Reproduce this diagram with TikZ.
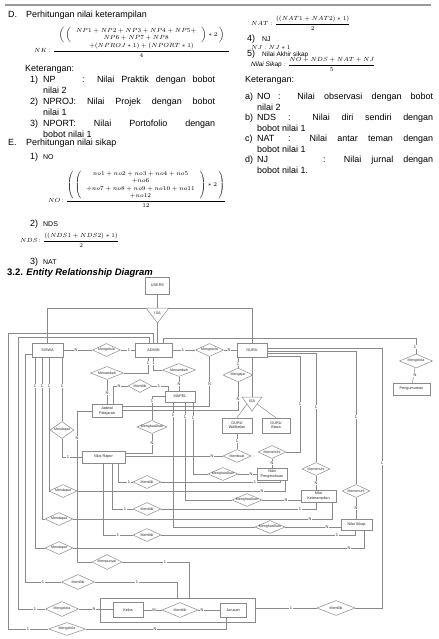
\documentclass[tikz,border=0pt]{standalone}
\usepackage{amsmath}
\usepackage{fontspec}
\setmainfont{Liberation Sans}
\usetikzlibrary{shapes.geometric}
\definecolor{erline}{HTML}{8A8A8A}
\definecolor{erink}{HTML}{2B2B2B}
\definecolor{rulegray}{HTML}{9A9A9A}
\tikzset{
  body/.style={anchor=base west,inner sep=0pt,font=\fontsize{9}{11}\selectfont},
  small/.style={anchor=base west,inner sep=0pt,font=\fontsize{7}{8}\selectfont},
  fml/.style={anchor=base west,inner sep=0pt,font=\fontsize{6.5}{7.5}\selectfont},
  ent/.style={draw=erline,line width=.5bp,fill=white,inner sep=0pt,align=center,
              font=\fontsize{3.8}{4.2}\selectfont,text=erink},
  rel/.style={diamond,aspect=2.4,draw=erline,line width=.5bp,fill=white,inner sep=0pt,
              minimum width=28bp,minimum height=13bp,font=\fontsize{3.6}{4}\selectfont,text=erink},
  card/.style={fill=white,inner sep=.5bp,font=\fontsize{4}{4}\selectfont,text=erink},
  erl/.style={draw=erline,line width=.5bp},
  isatxt/.style={inner sep=0pt,font=\fontsize{3.8}{4}\selectfont,text=erink},
}
\newcommand{\jline}[2]{\makebox[#1][s]{#2}}

\begin{document}
\begin{tikzpicture}[x=1bp,y=-1bp]
  \path[fill=white,use as bounding box] (0,0) rectangle (439,639);
  \draw[rulegray,line width=1.6bp] (5,5) -- (431,5);

  % ---- left column ----
  \node[body] (dLbl) at (8,18) {D.};
  \node[body] (dHead) at (26,18) {Perhitungan nilai keterampilan};
  \node[fml] (fNK) at (34,52.5) {$NK\colon\dfrac{\begin{array}{c}\left(\,\left(\begin{array}{c}NP1+NP2+NP3+NP4+NP5+\\ NP6+NP7+NP8\end{array}\right)*2\,\right)\\ +(NPROJ*1)+(NPORT*1)\end{array}}{4}$};
  \node[body] (ketD) at (25,71.5) {Keterangan:};
  \node[body] at (30,83) {1)};
  \node[body] at (43,83) {\jline{172bp}{\makebox[39bp][l]{NP}: Nilai Praktik dengan bobot}};
  \node[body] at (43,94) {nilai 2};
  \node[body] at (30,105) {2)};
  \node[body] at (43,105) {\jline{172bp}{NPROJ: Nilai Projek dengan bobot}};
  \node[body] at (43,116) {nilai 1};
  \node[body] at (30,127) {3)};
  \node[body] at (43,127) {\jline{172bp}{NPORT: Nilai Portofolio dengan}};
  \node[body] at (43,137.5) {bobot nilai 1};
  \node[body] (eLbl) at (8,146) {E.};
  \node[body] (eHead) at (26,146) {Perhitungan nilai sikap};
  \node[body] at (30,159.5) {1)};
  \node[small] at (43,159.5) {NO};
  \node[fml] (fNO) at (48,202.5) {$NO\colon\dfrac{\left(\,\left(\begin{array}{c}no1+no2+no3+no4+no5\\ +no6\\ +no7+no8+no9+no10+no11\\ +no12\end{array}\right)*2\,\right)}{12}$};
  \node[body] at (30,226) {2)};
  \node[small] at (43,226) {NDS};
  \node[fml] (fNDS) at (20,242.5) {$NDS\colon\dfrac{((NDS1+NDS2)*1)}{2}$};
  \node[body] at (30,264) {3)};
  \node[small] at (43,264) {NAT};
  \node[body,font=\fontsize{9.5}{11}\selectfont\bfseries] (erHead) at (7,275.5)
    {3.2. \textit{Entity Relationship Diagram}};

  % ---- right column ----
  \node[fml] (fNAT) at (251,25.5) {$NAT : \dfrac{((NAT1+NAT2)*1)}{2}$};
  \node[body] at (247,42) {4)};
  \node[small] at (262,42) {NJ};
  \node[fml] (fNJ) at (251,49.5) {$NJ : NJ*1$};
  \node[body] at (247,57) {5)};
  \node[small,font=\fontsize{6.5}{7}\selectfont] at (262,57) {Nilai Akhir sikap};
  \node[fml] (fNS) at (251,66.5) {$\mathit{Nilai\ Sikap} : \dfrac{NO+NDS+NAT+NJ}{5}$};
  \node[body] (ketE) at (245,83) {Keterangan:};
  \node[body] at (245,100) {a)};
  \node[body] at (257,100) {\jline{176bp}{\makebox[21bp][l]{NO}: Nilai observasi dengan bobot}};
  \node[body] at (257,110.5) {nilai 2};
  \node[body] at (245,121) {b)};
  \node[body] at (257,121) {\jline{176bp}{\makebox[31bp][l]{NDS}: Nilai diri sendiri dengan}};
  \node[body] at (257,131.5) {bobot nilai 1};
  \node[body] at (245,142) {c)};
  \node[body] at (257,142) {\jline{176bp}{\makebox[31bp][l]{NAT}: Nilai antar teman dengan}};
  \node[body] at (257,152.5) {bobot nilai 1};
  \node[body] at (245,163) {d)};
  \node[body] at (257,163) {\jline{176bp}{\makebox[66bp][l]{NJ}: Nilai jurnal dengan}};
  \node[body] at (257,173.5) {bobot nilai 1.};

  % ---- entities ----
  \node[ent,minimum width=24bp,minimum height=17bp] (users) at (157.5,285.5) {USERS};
  \node[ent,minimum width=31bp,minimum height=14bp] (siswa) at (47.5,350) {SISWA};
  \node[ent,minimum width=37bp,minimum height=14bp] (admin) at (153.5,350) {ADMIN};
  \node[ent,minimum width=30bp,minimum height=14bp] (guru) at (252,350) {GURU};
  \node[ent,minimum width=37bp,minimum height=12bp] (umum) at (411.5,389) {Pengumuman};
  \node[ent,minimum width=30bp,minimum height=13bp] (jadwal) at (107,411) {Jadwal\\Pelajaran};
  \node[ent,minimum width=30bp,minimum height=11bp] (mapel) at (180,396.5) {MAPEL};
  \node[ent,minimum width=30bp,minimum height=15bp] (wali) at (237,425.5) {GURU\\Walikelas};
  \node[ent,minimum width=28bp,minimum height=15bp] (biasa) at (276,425.5) {GURU\\Biasa};
  \node[ent,minimum width=43bp,minimum height=12bp] (rapor) at (103.5,457) {Nilai Rapor};
  \node[ent,minimum width=30bp,minimum height=12bp] (npeng) at (272,474) {Nilai\\Pengetahuan};
  \node[ent,minimum width=35bp,minimum height=12bp] (nket) at (318.5,496) {Nilai\\Keterampilan};
  \node[ent,minimum width=31bp,minimum height=11bp] (nsikap) at (356.5,524.5) {Nilai Sikap};
  \node[ent,minimum width=155bp,minimum height=24bp] (agg) at (177.5,610) {};
  \node[ent,minimum width=30bp,minimum height=15bp] (kelas) at (128,610) {Kelas};
  \node[ent,minimum width=26bp,minimum height=14bp] (jurusan) at (233,610) {Jurusan};

  % ---- ISA triangles ----
  \coordinate (isaL) at (146,308); \coordinate (isaR) at (169,308); \coordinate (isaB) at (157.5,323);
  \draw[erl] (isaL) -- (isaR) -- (isaB) -- cycle;
  \node[isatxt] (isa1) at (157.5,313) {ISA};
  \coordinate (isbL) at (242,397); \coordinate (isbR) at (262,397); \coordinate (isbB) at (252,411);
  \coordinate (isbT) at (252,397);
  \draw[erl] (isbL) -- (isbR) -- (isbB) -- cycle;
  \node[isatxt] (isa2) at (252,401.5) {ISA};
  \coordinate (isbSL) at (247,404); \coordinate (isbSR) at (257,404);

  % ---- relationships ----
  \node[rel] (klSA) at (106.5,350) {Mengelola};
  \node[rel] (klAG) at (209.5,350) {Mengelola};
  \node[rel,minimum width=33bp,minimum height=14bp] (klAP) at (416,361) {Mengelola};
  \node[rel,minimum width=33bp] (tbJ) at (107,373) {Menambah};
  \node[rel,minimum width=33bp] (tbM) at (179,370) {Menambah};
  \node[rel,minimum width=24bp] (mlJM) at (140,386) {Memiliki};
  \node[rel,minimum width=30bp,minimum height=14bp] (ajar) at (238,375) {Mengajar};
  \node[rel] (hsR) at (152,427) {Menghasilkan};
  \node[rel,minimum width=23bp,minimum height=17bp] (dp1) at (62,430) {Mendapat};
  \node[rel] (buat) at (237,456) {Membuat};
  \node[rel] (pn1) at (272,452) {Memenuhi};
  \node[rel] (pn2) at (316,469) {Memenuhi};
  \node[rel] (pn3) at (356,491) {Memenuhi};
  \node[rel] (hsP) at (223,474) {Menghasilkan};
  \node[rel] (hsK) at (247,500) {Menghasilkan};
  \node[rel] (hsS) at (270,527) {Menghasilkan};
  \node[rel] (mlA) at (147,482) {Memiliki};
  \node[rel] (mlB) at (147,509) {Memiliki};
  \node[rel] (mlC) at (147,535) {Memiliki};
  \node[rel] (dp2) at (63,491) {Mendapat};
  \node[rel] (dp3) at (59,519) {Mendapat};
  \node[rel] (dp4) at (59,548) {Mendapat};
  \node[rel,minimum width=30bp,minimum height=15bp] (punya) at (107,562) {Mempunyai};
  \node[rel,minimum width=33bp,minimum height=15bp] (mlS) at (78,582) {Memiliki};
  \node[rel,minimum width=33bp,minimum height=15bp] (klK) at (62,609) {Mengelola};
  \node[rel,minimum width=36bp,minimum height=15bp] (mlKJ) at (180,610) {Memiliki};
  \node[rel,minimum width=38bp,minimum height=15bp] (mlG) at (336,608) {Memiliki};
  \node[rel,minimum width=37bp,minimum height=13bp] (klJ) at (67,629) {Mengelola};

  % ---- connectors ----
  \draw[erl] (users.south) -- (users.south |- isaL);
  \draw[erl] (siswa.north) |- (isaL);
  \draw[erl] (isaR) -| (guru.north);
  \draw[erl] (isaB) -- (isaB |- admin.north);
  \draw[erl] (siswa) -- (klSA) -- (admin);
  \draw[erl] (admin) -- (klAG) -- (guru);
  \draw[erl] (admin.north -| 163,0) -- (163,338) -| (klAP.north);
  \draw[erl] (klAP) -- (umum);
  \draw[erl] (admin.north -| 153,0) -- (153,333) -| (klJ.west -| 8,0) -- (klJ.west);
  \draw[erl] (admin.north -| 149,0) -- (149,337) -| (klK.west -| 18,0) -- (klK.west);
  \draw[erl] (admin.south -| 148,0) |- (tbJ.east);
  \draw[erl] (tbJ) -- (jadwal);
  \draw[erl] (admin.south -| 153.5,0) |- (tbM.west);
  \draw[erl] (tbM.south) -- (tbM.south |- mapel.north);
  \draw[erl] (jadwal.north -| 113,0) |- (mlJM.west);
  \draw[erl] (mlJM.east) -| (mapel.north -| 168,0);
  \draw[erl] (guru.south -| 238,0) -- (ajar.north);
  \draw[erl] (ajar.south) |- (jadwal.east |- 0,410);
  \draw[erl] (klAG.south) |- (jadwal.east |- 0,406);
  \draw[erl] (guru.south) -- (isbT);
  \draw[erl] (isbSL) -- (wali.north);
  \draw[erl] (isbSR) -- (biasa.north);
  \draw[erl] (wali) -- (buat);
  \draw[erl] (rapor.east |- 0,453) -| (hsR.south);
  \draw[erl] (hsR.north) |- (mapel.west);
  \draw[erl] (rapor.east |- buat.west) -- (buat.west);
  \draw[erl] (siswa.south -| 62,0) -- (dp1.north);
  \draw[erl] (dp1.south) |- (rapor.west);
  \draw[erl] (siswa.south -| 49,0) |- (dp2.west);
  \draw[erl] (dp2.east) -| (npeng.south -| 285,0);
  \draw[erl] (siswa.south -| 42,0) |- (dp3.west);
  \draw[erl] (dp3.east) -| (nket.south -| 332,0);
  \draw[erl] (siswa.south -| 35,0) |- (dp4.west);
  \draw[erl] (dp4.east) -| (nsikap.south -| 364,0);
  \draw[erl] (siswa.west |- 0,354) -| (mlS.west -| 25,0) -- (mlS.west);
  \draw[erl] (mlS.east) -| (agg.north -| 177,0);
  \draw[erl] (jadwal.west) -| (punya.west -| 77,0) -- (punya.west);
  \draw[erl] (punya.east) -| (agg.north -| 189,0);
  \draw[erl] (klK.east) -- (klK.east -| kelas.west);
  \draw[erl] (kelas) -- (mlKJ) -- (jurusan);
  \draw[erl] (agg.east |- mlG.west) -- (mlG.west);
  \draw[erl] (mlG.east) -| (382,348) -- (guru.east |- 0,348);
  \draw[erl] (klJ.east) -| (jurusan.south -| 226,0);
  \draw[erl] (guru.east |- 0,351) -| (pn3.north);
  \draw[erl] (guru.east |- 0,353.5) -| (pn2.north);
  \draw[erl] (guru.east |- 0,356) -| (pn1.east -| 300,0) -- (pn1.east);
  \draw[erl] (pn1) -- (npeng);
  \draw[erl] (pn2.south) -- (pn2.south |- nket.north);
  \draw[erl] (pn3.south) -- (pn3.south |- nsikap.north);
  \draw[erl] (mapel.south -| 193,0) |- (hsP.west);
  \draw[erl] (hsP.east) -- (hsP.east -| npeng.west);
  \draw[erl] (mapel.south -| 185,0) |- (hsK.west);
  \draw[erl] (hsK.east) -- (hsK.east -| nket.west);
  \draw[erl] (mapel.south -| 173,0) |- (hsS.west);
  \draw[erl] (hsS.east) -- (hsS.east -| nsikap.west);
  \draw[erl] (rapor.south -| 118,0) |- (mlA.west);
  \draw[erl] (mlA.east) -| (npeng.south -| 280,0);
  \draw[erl] (rapor.south -| 112,0) |- (mlB.west);
  \draw[erl] (mlB.east) -| (nket.south -| 316,0);
  \draw[erl] (rapor.south -| 103,0) |- (mlC.west);
  \draw[erl] (mlC.east) -| (nsikap.south -| 355,0);

  % ---- cardinalities ----
  \foreach \cx/\cy/\ct in {76/350/N, 129/350/1, 183/350/1, 229/350/N,
      415/347/1, 415/375/N, 28/629/1, 155/629/N, 35/609/1, 94/609/N,
      154/610/M, 202/610/N, 43/582/1, 137/582/1, 165/562/1, 77/438/N,
      291/608/1, 382/463/1, 148/363/1, 153.5/363/1, 107/393/N, 179/384/N,
      119/386/N, 159/386/1, 238/364/1, 238/399/N, 209.5/384/N, 237/441/1,
      212/456/N, 152/443/N, 152/401/1, 62/386/1, 49/386/1, 42/386/1,
      35/386/1, 68/457/1, 262/491/N, 310/519/N, 349/548/N, 300/404/1,
      316/407/1, 356/417/1, 272/463/N, 316/483/N, 356/508/N, 193/418/1,
      185/417/1, 173/415/1, 251/474/N, 286/500/N, 327/527/N, 129/482/1,
      255/482/1, 125/509/1, 300/509/1, 118/535/1, 337/535/1}
    \node[card] at (\cx,\cy) {\ct};
\end{tikzpicture}
\end{document}
